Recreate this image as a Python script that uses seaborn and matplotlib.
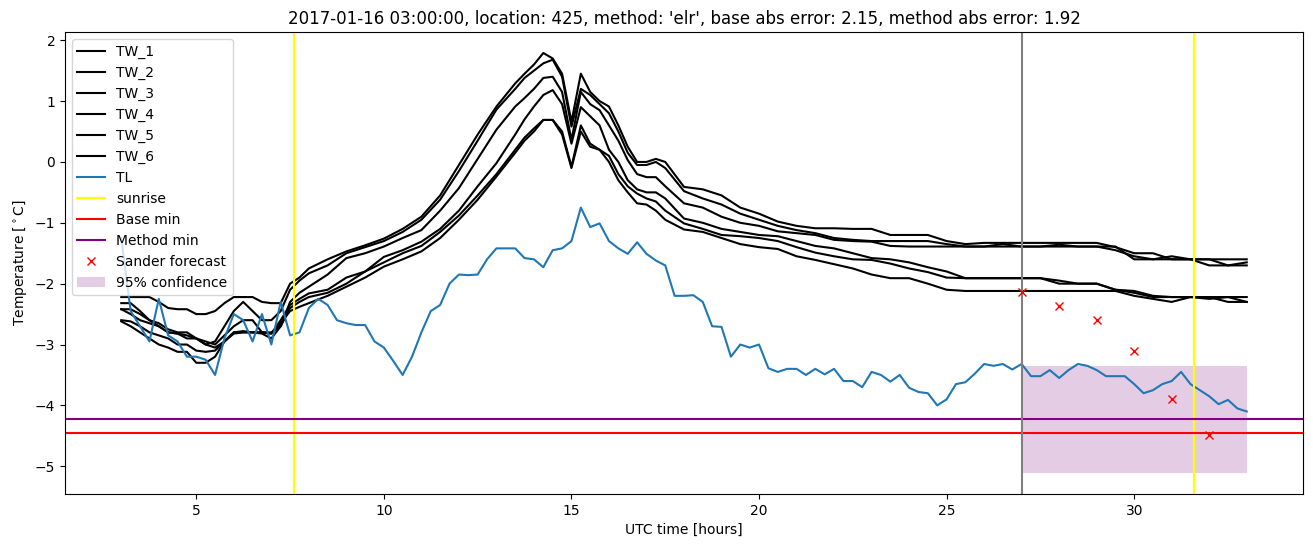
import numpy as np
import matplotlib
matplotlib.use("Agg")
import matplotlib.pyplot as plt
import seaborn as sns

# ---------------- data ----------------
tw_time = np.round(np.concatenate([
    np.arange(3.0, 8.01, 0.25),
    np.arange(8.5, 13.51, 0.5),
    np.arange(13.75, 17.51, 0.25),
    np.arange(18.0, 33.01, 0.5),
]), 2)

tw_names = ["TW_1", "TW_2", "TW_3", "TW_4", "TW_5", "TW_6"]

tw_1 = [-2.22, -2.22, -2.22, -2.22, -2.3, -2.4, -2.42, -2.42, -2.5, -2.5, -2.45, -2.32, -2.22, -2.22, -2.22, -2.3, -2.32, -2.32, -2.0, -1.9, -1.75,
        -1.6, -1.47, -1.37, -1.26, -1.1, -0.9, -0.55, -0.05, 0.45, 0.91, 1.29,
        1.45, 1.6, 1.79, 1.7, 1.45, 0.66, 1.45, 1.15, 1.0, 0.91, 0.6, 0.25, 0.0, 0.0, 0.05, 0.0,
        -0.41, -0.45, -0.55, -0.75, -0.85, -0.98, -1.05, -1.09, -1.09, -1.1, -1.1, -1.2, -1.2, -1.2, -1.3, -1.35,
        -1.33, -1.33, -1.33, -1.33, -1.33, -1.33, -1.33, -1.4, -1.5, -1.5, -1.6, -1.6, -1.6, -1.6, -1.6]
tw_2 = [-2.32, -2.32, -2.45, -2.6, -2.7, -2.8, -2.82, -2.9, -2.9, -3.0, -2.95, -2.7, -2.45, -2.3, -2.45, -2.6, -2.6, -2.45, -2.1, -1.95, -1.83,
        -1.7, -1.5, -1.4, -1.3, -1.15, -0.95, -0.62, -0.15, 0.35, 0.86, 1.2,
        1.38, 1.5, 1.62, 1.68, 1.4, 0.58, 1.2, 1.1, 0.95, 0.8, 0.5, 0.15, -0.05, -0.05, 0.0, -0.1,
        -0.48, -0.6, -0.7, -0.85, -0.95, -1.05, -1.12, -1.17, -1.25, -1.28, -1.3, -1.3, -1.3, -1.3, -1.35, -1.39,
        -1.39, -1.35, -1.39, -1.39, -1.36, -1.39, -1.39, -1.45, -1.55, -1.6, -1.55, -1.6, -1.6, -1.7, -1.65]
tw_3 = [-2.42, -2.42, -2.5, -2.6, -2.65, -2.75, -2.8, -2.8, -2.9, -2.95, -3.0, -2.85, -2.7, -2.6, -2.6, -2.8, -2.8, -2.7, -2.3, -2.15, -2.05,
        -1.85, -1.58, -1.5, -1.39, -1.25, -1.12, -0.8, -0.43, 0.05, 0.53, 0.91,
        1.05, 1.2, 1.38, 1.4, 1.15, 0.36, 1.15, 0.95, 0.85, 0.6, 0.35, 0.03, -0.2, -0.25, -0.25, -0.4,
        -0.68, -0.75, -0.9, -1.0, -1.05, -1.14, -1.17, -1.2, -1.28, -1.3, -1.31, -1.38, -1.39, -1.39, -1.39, -1.39,
        -1.39, -1.39, -1.39, -1.39, -1.39, -1.39, -1.39, -1.39, -1.6, -1.6, -1.6, -1.6, -1.7, -1.7, -1.7]
tw_4 = [-2.42, -2.5, -2.6, -2.65, -2.7, -2.8, -2.82, -2.85, -2.9, -3.0, -3.05, -2.95, -2.8, -2.78, -2.8, -2.8, -2.82, -2.6, -2.35, -2.25, -2.16,
        -2.1, -1.9, -1.8, -1.56, -1.45, -1.31, -1.1, -0.8, -0.4, -0.02, 0.45,
        0.7, 0.91, 1.1, 1.18, 0.95, 0.3, 0.9, 0.75, 0.6, 0.2, 0.0, -0.3, -0.45, -0.5, -0.5, -0.6,
        -0.93, -1.0, -1.1, -1.15, -1.2, -1.22, -1.3, -1.38, -1.42, -1.5, -1.58, -1.6, -1.65, -1.73, -1.8, -1.91,
        -1.91, -1.91, -1.91, -1.91, -1.95, -2.0, -2.0, -2.1, -2.12, -2.2, -2.22, -2.22, -2.22, -2.22, -2.22]
tw_5 = [-2.6, -2.62, -2.7, -2.8, -2.85, -2.9, -3.0, -3.0, -3.1, -3.12, -3.1, -2.95, -2.8, -2.8, -2.8, -2.82, -2.9, -2.7, -2.4, -2.3, -2.22,
        -2.15, -2.0, -1.8, -1.65, -1.5, -1.38, -1.15, -0.88, -0.55, -0.2, 0.2,
        0.4, 0.55, 0.69, 0.69, 0.5, -0.08, 0.6, 0.3, 0.2, 0.1, -0.2, -0.4, -0.52, -0.6, -0.65, -0.8,
        -1.01, -1.1, -1.2, -1.22, -1.25, -1.3, -1.4, -1.49, -1.55, -1.6, -1.61, -1.67, -1.75, -1.81, -1.9, -1.91,
        -1.91, -1.91, -1.91, -1.91, -2.0, -2.0, -2.0, -2.1, -2.15, -2.22, -2.22, -2.22, -2.25, -2.22, -2.3]
tw_6 = [-2.62, -2.7, -2.8, -2.9, -3.0, -3.05, -3.12, -3.12, -3.3, -3.3, -3.2, -2.95, -2.82, -2.8, -2.8, -2.8, -2.82, -2.65, -2.45, -2.38, -2.32,
        -2.2, -2.05, -1.9, -1.72, -1.6, -1.47, -1.25, -0.95, -0.62, -0.24, 0.15,
        0.35, 0.5, 0.69, 0.69, 0.45, -0.1, 0.5, 0.25, 0.2, 0.0, -0.3, -0.5, -0.68, -0.7, -0.8, -0.95,
        -1.11, -1.15, -1.25, -1.35, -1.4, -1.43, -1.55, -1.61, -1.68, -1.75, -1.85, -1.91, -1.91, -2.0, -2.1, -2.12,
        -2.12, -2.12, -2.12, -2.12, -2.12, -2.12, -2.12, -2.12, -2.2, -2.25, -2.3, -2.22, -2.22, -2.3, -2.3]
tw_series = [tw_1, tw_2, tw_3, tw_4, tw_5, tw_6]

tl_time = np.round(np.arange(3.0, 33.01, 0.25), 2)
tl_values = [-1.25, -2.45, -2.7, -2.95,
             -2.25, -2.85, -2.95, -3.2,
             -3.2, -3.25, -3.5, -2.9,
             -2.5, -2.6, -2.95, -2.5,
             -3.0, -2.3, -2.85, -2.8,
             -2.4, -2.25, -2.35, -2.6,
             -2.65, -2.68, -2.68, -2.95,
             -3.05, -3.27, -3.5, -3.2,
             -2.8, -2.45, -2.35, -2.0,
             -1.85, -1.86, -1.85, -1.6,
             -1.42, -1.42, -1.42, -1.58,
             -1.6, -1.73, -1.45, -1.42,
             -1.3, -0.75, -1.07, -1.01,
             -1.3, -1.42, -1.51, -1.32,
             -1.51, -1.62, -1.7, -2.2,
             -2.2, -2.19, -2.3, -2.7,
             -2.71, -3.2, -3.0, -3.05,
             -3.0, -3.39, -3.45, -3.4,
             -3.4, -3.5, -3.4, -3.49,
             -3.4, -3.6, -3.6, -3.7,
             -3.45, -3.5, -3.61, -3.5,
             -3.71, -3.78, -3.8, -4.0,
             -3.9, -3.65, -3.62, -3.48,
             -3.32, -3.35, -3.32, -3.41,
             -3.32, -3.52, -3.52, -3.42,
             -3.55, -3.42, -3.32, -3.35,
             -3.42, -3.52, -3.52, -3.52,
             -3.65, -3.8, -3.75, -3.65,
             -3.6, -3.45, -3.65, -3.75,
             -3.85, -3.98, -3.91, -4.05,
             -4.1]

sunrise_times = [7.6, 31.6]
forecast_start = 27.0
base_min = -4.46
method_min = -4.23
forecast_hours = [27, 28, 29, 30, 31, 32]
forecast_values = [-2.13, -2.37, -2.59, -3.11, -3.90, -4.48]
conf_hours = [27.0, 33.0]
conf_low = [-5.11, -5.11]
conf_high = [-3.355, -3.355]

title = ("2017-01-16 03:00:00, location: 425, method: 'elr', "
         "base abs error: 2.15, method abs error: 1.92")

# ---------------- plot ----------------
fig, ax = plt.subplots(figsize=(13.13, 5.47), dpi=100)
fig.subplots_adjust(left=0.0495, right=0.9924, bottom=0.097, top=0.9415)

for name, vals in zip(tw_names, tw_series):
    sns.lineplot(x=tw_time, y=vals, ax=ax, color="black", label=name,
                 estimator=None, linewidth=1.5)
sns.lineplot(x=tl_time, y=tl_values, ax=ax, color="#1f77b4", label="TL",
             estimator=None, linewidth=1.5)

ax.axvline(sunrise_times[0], color="yellow", label="sunrise")
ax.axvline(sunrise_times[1], color="yellow")
ax.axhline(base_min, color="red", label="Base min")
ax.axhline(method_min, color="purple", label="Method min")
ax.axvline(forecast_start, color="grey")
ax.plot(forecast_hours, forecast_values, "x", color="red", label="Sander forecast")
ax.fill_between(conf_hours, conf_low, conf_high, color="purple", alpha=0.2,
                linewidth=0, label="95% confidence")

ax.set_xlabel("UTC time [hours]")
ax.set_ylabel("Temperature [$^\\circ$C]")
ax.set_title(title)
ax.legend(loc="upper left")

fig.savefig("out.png", dpi=100)
